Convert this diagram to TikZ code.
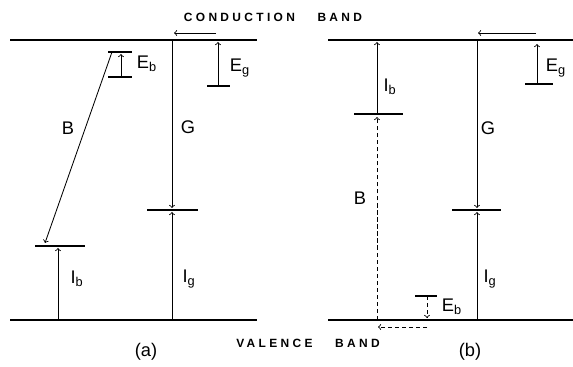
\documentclass[tikz,border=0pt]{standalone}
\usepackage{fontspec}
\setmainfont{Liberation Sans}
\newfontfamily\bandfont[LetterSpace=28]{Liberation Sans}
\usetikzlibrary{arrows}
\tikzstyle{band} = [line width=1.4pt]
\tikzstyle{level} = [line width=1.3pt]
\tikzstyle{arrow} = [line width=0.6pt,->,>=to]
\tikzstyle{dasharrow} = [line width=0.6pt,->,>=to,dash pattern=on 3pt off 2pt]
\tikzstyle{lab} = [font=\fontsize{13}{15}\selectfont]
\tikzstyle{bandtext} = [font=\bandfont\fontsize{8.5}{10}\selectfont\bfseries]

\begin{document}
\begin{tikzpicture}[x=0.025cm, y=-0.025cm]
        \useasboundingbox (0,0) rectangle (573,367);

        % band edges
        \coordinate (cbA1) at (10,40);   \coordinate (cbA2) at (257,40);
        \coordinate (vbA1) at (10,320);  \coordinate (vbA2) at (257,320);
        \coordinate (cbB1) at (328,40);  \coordinate (cbB2) at (573,40);
        \coordinate (vbB1) at (328,320); \coordinate (vbB2) at (573,320);
        \draw [band] (cbA1) -- (cbA2);
        \draw [band] (vbA1) -- (vbA2);
        \draw [band] (cbB1) -- (cbB2);
        \draw [band] (vbB1) -- (vbB2);

        \node (cbtext) [bandtext] at (273,17) {CONDUCTION\hspace{16pt}BAND};
        \node (vbtext) [bandtext] at (308,343) {VALENCE\hspace{16pt}BAND};

        % panel (a)
        \coordinate (ebhiA1) at (108,52);  \coordinate (ebhiA2) at (132,52);
        \coordinate (eblowA1) at (108,77); \coordinate (eblowA2) at (132,77);
        \coordinate (egA1) at (207,86);    \coordinate (egA2) at (230,86);
        \coordinate (gA1) at (147,210);    \coordinate (gA2) at (198,210);
        \coordinate (ibA1) at (35,246);    \coordinate (ibA2) at (85,246);
        \draw [level] (ebhiA1) -- (ebhiA2);
        \draw [level] (eblowA1) -- (eblowA2);
        \draw [level] (egA1) -- (egA2);
        \draw [level] (gA1) -- (gA2);
        \draw [level] (ibA1) -- (ibA2);

        \coordinate (ebA0) at (121,77);  \coordinate (ebA) at (121,54);
        \coordinate (egA0) at (218,86);  \coordinate (egA) at (218,42);
        \coordinate (gA0) at (172,40);   \coordinate (gA) at (172,208);
        \coordinate (igA0) at (172,320); \coordinate (igA) at (172,212);
        \coordinate (bA0) at (112,52);   \coordinate (bA) at (45,243);
        \coordinate (ibA0) at (58,320);  \coordinate (ibA) at (58,248);
        \coordinate (hA0) at (216,33);   \coordinate (hA) at (174,33);
        \draw [arrow] (ebA0) -- (ebA);
        \draw [arrow] (egA0) -- (egA);
        \draw [arrow] (gA0) -- (gA);
        \draw [arrow] (igA0) -- (igA);
        \draw [arrow] (bA0) -- (bA);
        \draw [arrow] (ibA0) -- (ibA);
        \draw [arrow] (hA0) -- (hA);

        \node (ebtextA) [lab] at (147,64) {E$_\mathrm{b}$};
        \node (egtextA) [lab] at (240,68) {E$_\mathrm{g}$};
        \node (btextA) [lab] at (68,128) {B};
        \node (gtextA) [lab] at (188,127) {G};
        \node (ibtextA) [lab] at (77,279) {I$_\mathrm{b}$};
        \node (igtextA) [lab] at (189,279) {I$_\mathrm{g}$};
        \node (capA) [lab] at (146,352) {(a)};

        % panel (b)
        \coordinate (egB1) at (525,84);    \coordinate (egB2) at (553,84);
        \coordinate (ibB1) at (354,114);   \coordinate (ibB2) at (403,114);
        \coordinate (gB1) at (452,210);    \coordinate (gB2) at (501,210);
        \coordinate (ebB1) at (415,296);   \coordinate (ebB2) at (437,296);
        \draw [level] (egB1) -- (egB2);
        \draw [level] (ibB1) -- (ibB2);
        \draw [level] (gB1) -- (gB2);
        \draw [level] (ebB1) -- (ebB2);

        \coordinate (egB0) at (537,84);  \coordinate (egB) at (537,44);
        \coordinate (ibB0) at (377,114); \coordinate (ibB) at (377,42);
        \coordinate (bB0) at (377,320);  \coordinate (bB) at (377,117);
        \coordinate (gB0) at (477,40);   \coordinate (gB) at (477,208);
        \coordinate (igB0) at (477,320); \coordinate (igB) at (477,212);
        \coordinate (ebB0) at (427,296); \coordinate (ebB) at (427,318);
        \coordinate (lB0) at (427,327);  \coordinate (lB) at (378,327);
        \coordinate (hB0) at (536,33);   \coordinate (hB) at (478,33);
        \draw [arrow] (egB0) -- (egB);
        \draw [arrow] (ibB0) -- (ibB);
        \draw [dasharrow] (bB0) -- (bB);
        \draw [arrow] (gB0) -- (gB);
        \draw [arrow] (igB0) -- (igB);
        \draw [dasharrow] (ebB0) -- (ebB);
        \draw [dasharrow] (lB0) -- (lB);
        \draw [arrow] (hB0) -- (hB);

        \node (egtextB) [lab] at (556,68) {E$_\mathrm{g}$};
        \node (ibtextB) [lab] at (390,87) {I$_\mathrm{b}$};
        \node (btextB) [lab] at (360,198) {B};
        \node (gtextB) [lab] at (488,128) {G};
        \node (igtextB) [lab] at (490,279) {I$_\mathrm{g}$};
        \node (ebtextB) [lab] at (452,307) {E$_\mathrm{b}$};
        \node (capB) [lab] at (470,352) {(b)};
\end{tikzpicture}
\end{document}
